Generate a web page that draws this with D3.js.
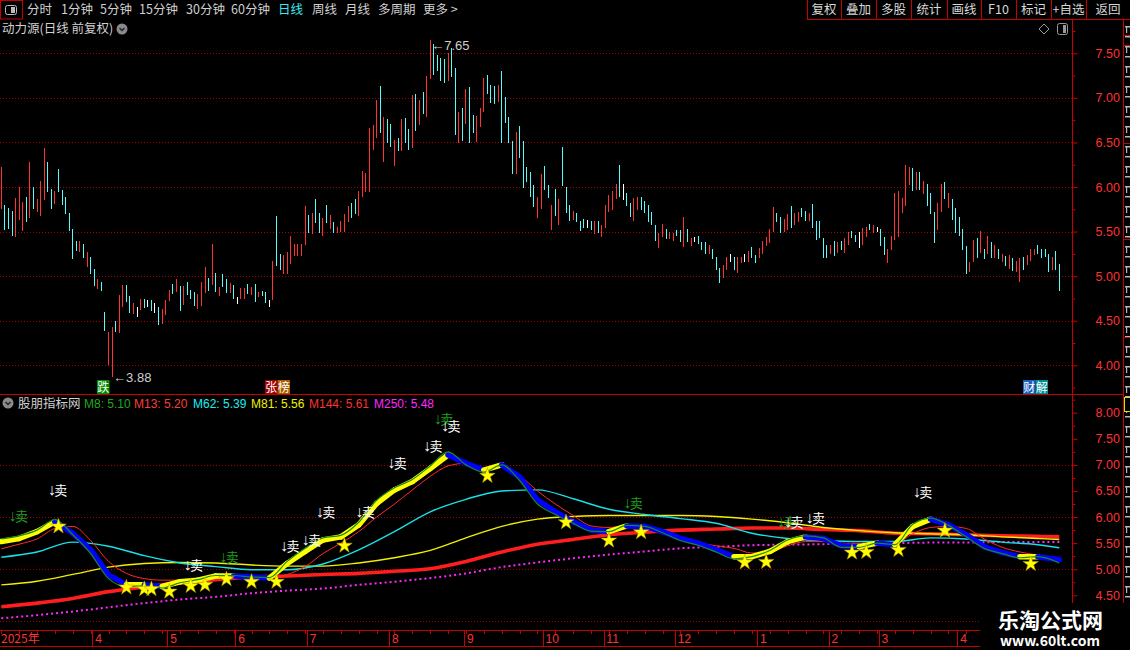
<!DOCTYPE html>
<html>
<head>
<meta charset="utf-8">
<title>动力源</title>
<script src="https://cdn.jsdelivr.net/npm/d3@7/dist/d3.min.js"></script>
<style>
  body { margin: 0; background: #000; overflow: hidden; }
  svg { display: block; }
  text { font-family: "Noto Sans CJK SC", "Liberation Sans", sans-serif; }
  .num { font-family: "Liberation Sans", "DejaVu Sans", sans-serif; }
</style>
</head>
<body>
<svg id="chart" width="1130" height="650"></svg>
<script>
// ---- daily bars (high / low / 1 up, -1 down, 0 flat)
const highs = [
  6.23,5.80,5.77,5.73,5.88,6.00,5.83,5.89,6.28,6.00, 5.86,6.07,6.44,6.28,5.98,5.96,6.20,5.97,5.89,5.71,
  5.53,5.40,5.39,5.36,5.27,5.22,5.08,4.97,4.94,4.60, 4.37,4.43,4.50,4.79,4.90,4.90,4.78,4.70,4.65,4.74,
  4.74,4.73,4.73,4.70,4.65,4.63,4.73,4.84,4.91,4.97, 4.89,4.89,4.93,4.85,4.82,4.80,4.93,5.10,4.98,5.36,
  5.03,4.88,5.02,4.97,4.92,4.90,4.77,4.87,4.87,4.91, 4.88,4.91,4.82,4.83,4.82,4.73,5.17,5.67,5.25,5.24,
  5.27,5.45,5.36,5.36,
  5.36,5.79,5.69,5.71,5.87,5.71,5.65,5.80,5.69,5.61, 5.55,5.62,5.70,5.79,5.82,5.87,5.96,6.18,6.16,6.66,
  6.70,6.98,7.13,6.79,6.76,6.71,6.53,6.55,6.76,6.77, 6.65,7.03,7.04,6.98,7.07,7.25,7.65,7.60,7.48,7.45,
  7.44,7.50,7.56,7.33,6.84,6.89,7.10,7.12,6.81,6.80, 6.89,7.22,7.26,7.14,7.13,7.14,7.30,7.01,6.79,6.52,
  6.62,6.69,6.52,6.22,6.17,6.02,5.89,6.15,6.24,6.02,
  5.80,5.98,5.87,6.45,6.00,5.80,5.73,5.71,5.62,5.64, 5.63,5.62,5.62,5.62,5.57,5.80,5.91,5.96,6.03,6.25,
  6.03,5.93,5.82,5.88,5.89,5.89,5.84,5.80,5.72,5.57, 5.48,5.59,5.53,5.50,5.48,5.52,5.52,5.66,5.53,5.43,
  5.44,5.45,5.38,5.38,5.35,5.30,5.22,5.09,5.12,5.21, 5.25,5.21,5.22,5.22,5.25,5.28,5.33,5.24,5.32,5.39,
  5.44,5.53,5.78,5.71,5.66,5.64,5.70,5.79,5.71,5.72,5.76,
  5.73,5.71,5.81,5.62,5.62,5.43,5.35,5.35,5.39,5.38, 5.39,5.43,5.50,5.51,5.46,5.50,5.54,5.55,5.59,5.57,
  5.55,5.53,5.44,5.31,5.45,5.93,5.96,5.88,6.25,6.22, 6.21,6.17,6.17,6.07,6.03,5.93,5.72,5.82,6.03,6.06,
  5.93,5.87,5.77,5.66,5.53,5.34,5.16,5.41,5.43,5.51, 5.31,5.45,5.38,5.35,5.31,5.25,5.23,5.24,5.20,5.17,
  5.20,5.21,5.24,5.31,5.31,5.35,5.31,5.31,5.25,5.22,5.28,5.14
];
const lows = [
  5.76,5.53,5.54,5.46,5.45,5.64,5.52,5.62,5.66,5.77, 5.73,5.69,5.87,5.96,5.77,5.82,5.96,5.81,5.71,5.52,
  5.20,5.29,5.28,5.21,5.11,5.04,4.90,4.87,4.84,4.40, 4.02,3.88,4.38,4.37,4.67,4.72,4.60,4.59,4.55,4.63,
  4.65,4.66,4.62,4.60,4.46,4.48,4.57,4.73,4.81,4.83, 4.62,4.69,4.80,4.75,4.68,4.64,4.68,4.82,4.85,4.91,
  4.83,4.79,4.89,4.82,4.82,4.75,4.70,4.75,4.76,4.81, 4.80,4.72,4.78,4.79,4.71,4.67,4.74,5.12,5.08,5.03,
  5.03,5.15,5.24,5.24,
  5.24,5.36,5.50,5.48,5.61,5.49,5.46,5.61,5.54,5.49, 5.49,5.51,5.51,5.62,5.66,5.71,5.69,5.90,5.96,5.96,
  6.43,6.56,6.62,6.29,6.50,6.46,6.25,6.42,6.42,6.50, 6.43,6.45,6.64,6.71,6.83,6.80,7.22,7.27,7.31,7.20,
  7.18,7.20,7.25,6.59,6.51,6.53,6.72,6.51,6.62,6.52, 6.69,6.85,7.05,6.95,6.94,6.97,6.50,6.73,6.50,6.16,
  6.16,6.34,6.00,6.07,5.90,5.79,5.66,5.77,5.98,5.89,
  5.53,5.69,5.59,6.02,5.72,5.63,5.64,5.62,5.52,5.55, 5.55,5.53,5.48,5.49,5.45,5.55,5.73,5.75,5.88,5.90,
  5.87,5.80,5.67,5.63,5.75,5.75,5.72,5.62,5.58,5.41, 5.33,5.45,5.43,5.43,5.41,5.46,5.39,5.34,5.39,5.35,
  5.40,5.37,5.31,5.26,5.26,5.20,5.08,4.94,4.99,5.08, 5.17,5.08,5.05,5.16,5.17,5.17,5.22,5.16,5.21,5.26,
  5.35,5.38,5.51,5.62,5.50,5.51,5.53,5.55,5.58,5.62,5.67,
  5.63,5.63,5.55,5.42,5.44,5.21,5.21,5.26,5.24,5.27, 5.30,5.27,5.36,5.44,5.40,5.33,5.36,5.45,5.53,5.50,
  5.51,5.35,5.25,5.16,5.31,5.42,5.45,5.72,5.80,6.03, 5.97,5.98,5.98,5.93,5.80,5.71,5.38,5.53,5.73,5.88,
  5.78,5.64,5.49,5.46,5.30,5.03,5.06,5.17,5.22,5.27, 5.20,5.26,5.22,5.21,5.20,5.17,5.12,5.09,5.07,5.06,
  4.95,5.08,5.14,5.18,5.25,5.26,5.21,5.23,5.06,5.08,5.08,4.84
];
const moves = [
  1,-1,-1,-1,1,1,1,-1,1,-1, 1,1,1,-1,-1,1,-1,-1,-1,-1,
  -1,-1,1,-1,1,-1,-1,1,-1,-1, 1,1,-1,1,1,-1,-1,1,0,1,
  -1,0,-1,0,-1,1,1,1,-1,1, -1,1,-1,-1,-1,1,1,1,-1,1,
  -1,1,-1,-1,1,-1,0,1,1,-1, 1,-1,1,-1,-1,0,1,-1,-1,1,
  1,1,1,1,
  1,1,-1,1,-1,-1,1,-1,1,-1, 1,1,1,1,-1,-1,1,1,1,1,
  1,1,-1,1,-1,-1,1,-1,1,-1, -1,1,-1,1,-1,1,1,-1,-1,-1,
  -1,1,-1,-1,1,-1,1,-1,-1,1, 1,1,-1,-1,-1,1,-1,-1,-1,-1,
  1,-1,-1,-1,-1,-1,1,1,-1,-1,
  1,-1,1,-1,-1,-1,1,-1,-1,-1, 0,-1,1,-1,1,1,1,1,1,-1,
  0,-1,-1,1,1,-1,-1,-1,-1,-1, 1,1,-1,1,1,-1,-1,1,-1,1,
  0,-1,-1,-1,1,-1,-1,-1,1,1, 0,-1,1,1,0,1,-1,-1,1,1,
  1,1,1,-1,-1,1,1,-1,1,1,-1,
  -1,1,-1,-1,-1,-1,-1,1,-1,1, -1,1,1,-1,-1,0,1,1,-1,1,
  0,-1,-1,1,1,1,1,1,1,1, -1,1,-1,1,-1,-1,-1,1,1,-1,
  1,-1,-1,-1,-1,-1,1,1,-1,1, -1,1,-1,1,-1,1,-1,1,-1,1,
  1,-1,1,1,1,-1,-1,-1,-1,1,-1,-1
];

// ---- indicator lines, sampled on these bars
const fastBars = [0,5,10,15,20,25,30,35,40,45,50,55,60,65,70,75,80,85,90,95,100,105,110,115,120,125,130,135,140,145,
  150,155,160,165,170,175,180,185,190,195,200,205,210,215,220,225,230,235,240,245,250,255,260,265,270,275,280,285,290,296];
const trendLine = [5.53,5.59,5.72,5.91,5.69,5.37,4.89,4.70,4.70,4.67,4.76,4.79,4.87,4.87,4.85,4.83,5.11,5.34,5.56,5.62,
  5.85,6.26,6.52,6.68,6.93,7.19,7.03,6.90,7.00,6.77,6.33,6.10,5.91,5.75,5.72,5.83,5.82,5.72,5.59,5.50,
  5.37,5.24,5.24,5.34,5.53,5.62,5.59,5.45,5.43,5.50,5.47,5.82,5.96,5.85,5.66,5.43,5.32,5.24,5.24,5.18];
const m8 = [5.58,5.64,5.75,5.95,5.66,5.30,4.82,4.67,4.68,4.64,4.74,4.80,4.88,4.88,4.85,4.84,5.15,5.40,5.60,5.65,
  5.90,6.32,6.56,6.72,6.98,7.25,7.00,6.86,7.00,6.70,6.25,6.05,5.88,5.73,5.72,5.84,5.82,5.70,5.55,5.46,
  5.33,5.20,5.24,5.36,5.56,5.64,5.60,5.42,5.42,5.50,5.47,5.86,5.98,5.84,5.62,5.40,5.30,5.22,5.24,5.12];
const m13 = [5.39,5.48,5.58,5.78,5.82,5.55,5.15,4.92,4.82,4.79,4.79,4.82,4.84,4.85,4.85,4.84,4.90,5.05,5.30,5.50,
  5.72,6.00,6.25,6.52,6.78,6.98,7.03,6.93,7.00,6.80,6.50,6.25,6.03,5.83,5.80,5.82,5.82,5.74,5.62,5.51,
  5.45,5.40,5.31,5.33,5.45,5.53,5.53,5.50,5.49,5.49,5.49,5.68,5.80,5.82,5.78,5.58,5.42,5.33,5.27,5.22];
const slowBars = [0,10,20,30,40,50,60,70,80,90,100,110,120,130,140,150,160,170,180,190,200,210,220,230,240,250,260,270,280,290,296];
const m62 = [5.23,5.33,5.52,5.44,5.26,5.12,5.05,4.99,4.99,5.10,5.37,5.72,6.10,6.34,6.50,6.52,6.35,6.15,6.05,5.97,
  5.88,5.69,5.59,5.55,5.53,5.53,5.60,5.58,5.52,5.47,5.41];
const m81 = [4.70,4.77,4.90,5.04,5.11,5.13,5.12,5.08,5.06,5.06,5.12,5.22,5.36,5.60,5.82,5.96,6.01,6.03,6.03,6.03,
  6.01,5.96,5.89,5.80,5.74,5.70,5.68,5.66,5.62,5.59,5.57];
const m144 = [4.28,4.35,4.44,4.57,4.66,4.74,4.80,4.85,4.87,4.90,4.92,4.96,5.01,5.15,5.33,5.48,5.57,5.66,5.71,5.75,
  5.77,5.79,5.79,5.76,5.74,5.69,5.68,5.66,5.64,5.63,5.62];
const m250 = [4.06,4.12,4.19,4.27,4.35,4.42,4.47,4.54,4.59,4.63,4.70,4.76,4.83,4.92,5.04,5.13,5.21,5.28,5.34,5.40,
  5.43,5.46,5.47,5.48,5.49,5.50,5.51,5.51,5.52,5.52,5.52];

const starBars = [16,35,40,42,47,53,57,63,70,77,96,136,158,170,179,208,214,238,242,251,264,288];
const starVals = [5.82,4.65,4.62,4.62,4.57,4.68,4.70,4.81,4.76,4.76,5.45,6.79,5.90,5.55,5.71,5.13,5.14,5.32,5.33,5.37,5.74,5.10];
const sellBars = [2,13,51,61,78,84,88,99,108,118,121,123,174,217,219,225,255];
const sellVals = [5.93,6.42,4.99,5.14,5.35,5.47,6.00,6.00,6.94,7.27,7.78,7.65,6.17,5.81,5.81,5.89,6.39];
const sellKinds = [0,1,1,0,1,1,1,1,1,1,0,1,0,0,1,1,1];   // 0 weak (green), 1 strong (white)

const maNames = ["M8","M13","M62","M81","M144","M250"];
const maLast = [5.10,5.20,5.39,5.56,5.61,5.48];

const monthBars = [26,47,66,86,109,130,152,169,189,212,232,246,268];
const monthLabels = ["4","5","6","7","8","9","10","11","12","1","2","3","4"];
const eventBars = [27,74,286];
const eventTexts = ["跌","张榜","财解"];
const topTicks = [3.75,4.00,4.25,4.50,4.75,5.00,5.25,5.50,5.75,6.00,6.25,6.50,6.75,7.00,7.25,7.50,7.75];
const lowTicks = [4.50,4.75,5.00,5.25,5.50,5.75,6.00,6.25,6.50,6.75,7.00,7.25,7.50,7.75,8.00,8.25];

const periodTabs = ["分时","1分钟","5分钟","15分钟","30分钟","60分钟","日线","周线","月线","多周期","更多 >"];
const toolButtons = ["复权","叠加","多股","统计","画线","F10","标记","+自选","返回"];

// ---- layout
const RED = "#ff3232", CYAN = "#54fcfc", GRID = "#a80000", LINE = "#c80000";
const AXIS_X = 1072;
const tabX = [27,61,100,139,186,231,278,312,345,378,423];
const btnEdges = [807,841,876,911,947,981,1016,1051,1086,1130];

const svg = d3.select("#chart");
svg.append("rect").attr("width", 1130).attr("height", 650).attr("fill", "#000");

const xBar = d3.scaleLinear().domain([0, highs.length - 1]).range([1.3, 1059.3]);
const yTop = d3.scaleLinear().domain([4.0, 7.5]).range([365.3, 53.3]);
const yLow = d3.scaleLinear().domain([4.5, 8.0]).range([595.3, 412.7]);

const defs = svg.append("defs");
defs.append("clipPath").attr("id", "clipTop").append("rect").attr("x", 0).attr("y", 20).attr("width", AXIS_X).attr("height", 374);
defs.append("clipPath").attr("id", "clipLow").append("rect").attr("x", 0).attr("y", 396).attr("width", AXIS_X).attr("height", 234);

// ---- toolbar
const bar = svg.append("g");
bar.append("rect").attr("x", 0.5).attr("y", 0.5).attr("width", 22).attr("height", 18.5)
  .attr("fill", "none").attr("stroke", LINE);
bar.append("rect").attr("x", 5.5).attr("y", 5.5).attr("width", 11).attr("height", 9).attr("rx", 2)
  .attr("fill", "none").attr("stroke", "#bbb");
bar.append("rect").attr("x", 11).attr("y", 7).attr("width", 4).attr("height", 6).attr("fill", "#bbb");
bar.selectAll("text.tab").data(periodTabs).join("text").attr("class", "tab")
  .attr("x", (d, i) => tabX[i]).attr("y", 14).attr("font-size", 12.5)
  .attr("fill", d => d === "日线" ? "#3ce8f0" : "#d0d0d0").text(d => d);
bar.append("line").attr("x1", 807).attr("x2", 1130).attr("y1", 19.5).attr("y2", 19.5).attr("stroke", LINE);
bar.selectAll("line.sep").data(btnEdges.slice(0, -1)).join("line").attr("class", "sep")
  .attr("x1", d => d + 0.5).attr("x2", d => d + 0.5).attr("y1", 0).attr("y2", 19.5).attr("stroke", LINE);
bar.selectAll("text.btn").data(toolButtons).join("text").attr("class", "btn")
  .attr("x", (d, i) => (btnEdges[i] + btnEdges[i + 1]) / 2).attr("y", 14).attr("text-anchor", "middle")
  .attr("font-size", 12.5).attr("fill", "#d8d8d8").text(d => d);

// ---- frame lines
const frame = svg.append("g").attr("stroke", LINE).attr("shape-rendering", "crispEdges");
frame.append("line").attr("x1", AXIS_X + 0.5).attr("x2", AXIS_X + 0.5).attr("y1", 19.5).attr("y2", 646);
frame.append("line").attr("x1", 1123.5).attr("x2", 1123.5).attr("y1", 19.5).attr("y2", 650);
frame.append("line").attr("x1", 0).attr("x2", 1123.5).attr("y1", 394.5).attr("y2", 394.5);
frame.append("line").attr("x1", 0).attr("x2", 1123.5).attr("y1", 630.5).attr("y2", 630.5);
frame.append("line").attr("x1", 0).attr("x2", 1123.5).attr("y1", 646.5).attr("y2", 646.5);

// ---- gridlines
const grid = svg.append("g").attr("stroke", GRID).attr("stroke-dasharray", "1,2").attr("shape-rendering", "crispEdges");
grid.selectAll("line.gt").data(topTicks.filter(t => t * 2 === Math.round(t * 2) && t >= 4 && t <= 7.5)).join("line").attr("class", "gt")
  .attr("x1", 0).attr("x2", AXIS_X).attr("y1", d => Math.round(yTop(d)) + 0.5).attr("y2", d => Math.round(yTop(d)) + 0.5);
grid.selectAll("line.gl").data([4, 5, 6, 7]).join("line").attr("class", "gl")
  .attr("x1", 0).attr("x2", AXIS_X).attr("y1", d => Math.round(yLow(d)) + 0.5).attr("y2", d => Math.round(yLow(d)) + 0.5);

// ---- right axes
function priceAxis(scale, ticks) {
  return d3.axisRight(scale).tickValues(ticks).tickSize(4).tickPadding(19)
    .tickFormat(d => d * 2 === Math.round(d * 2) ? d.toFixed(2) : "");
}
function styleAxis(g) {
  g.select(".domain").remove();
  g.selectAll("line").attr("stroke", LINE).attr("x2", d => d * 2 === Math.round(d * 2) ? 5 : 3);
  g.selectAll("text").attr("class", "num").attr("fill", RED).attr("font-size", 12.5);
}
svg.append("g").attr("transform", `translate(${AXIS_X + 0.5},0)`).call(priceAxis(yTop, topTicks)).call(styleAxis);
svg.append("g").attr("transform", `translate(${AXIS_X + 0.5},0)`).call(priceAxis(yLow, lowTicks)).call(styleAxis);

// ---- top panel title
svg.append("text").attr("x", 2).attr("y", 33).attr("font-size", 12.5).attr("fill", "#d0d0d0").text("动力源(日线 前复权)");
function chevronIcon(cx, cy) {
  svg.append("circle").attr("cx", cx).attr("cy", cy).attr("r", 5.5).attr("fill", "#8a8a8a");
  svg.append("path").attr("d", `M${cx - 2.5},${cy - 1} L${cx},${cy + 1.5} L${cx + 2.5},${cy - 1}`)
    .attr("fill", "none").attr("stroke", "#222").attr("stroke-width", 1.4);
}
chevronIcon(122, 29);
svg.append("path").attr("d", "M1044,24 L1049,29 L1044,34 L1039,29 Z").attr("fill", "none").attr("stroke", "#999");
svg.append("rect").attr("x", 1057.5).attr("y", 23.5).attr("width", 10).attr("height", 11).attr("rx", 2).attr("fill", "none").attr("stroke", "#999");
svg.append("rect").attr("x", 1063).attr("y", 25).attr("width", 3).attr("height", 8).attr("fill", "#999");

// ---- candles
const moveColor = m => m > 0 ? RED : (m < 0 ? CYAN : "#ffffff");
svg.append("g").attr("clip-path", "url(#clipTop)").attr("shape-rendering", "crispEdges")
  .selectAll("line").data(highs).join("line")
  .attr("x1", (d, i) => Math.floor(xBar(i)) + 0.5).attr("x2", (d, i) => Math.floor(xBar(i)) + 0.5)
  .attr("y1", d => yTop(d)).attr("y2", (d, i) => yTop(lows[i]) + 1)
  .attr("stroke", (d, i) => moveColor(moves[i])).attr("stroke-width", 1.2);

// extremes
const hiIdx = d3.maxIndex(highs), loIdx = d3.minIndex(lows);
svg.append("text").attr("class", "num").attr("x", xBar(hiIdx) + 1).attr("y", yTop(highs[hiIdx]) + 10)
  .attr("font-size", 13).attr("fill", "#cfcfcf").text("←" + highs[hiIdx].toFixed(2));
svg.append("text").attr("class", "num").attr("x", xBar(loIdx) + 1).attr("y", yTop(lows[loIdx]) + 6)
  .attr("font-size", 13).attr("fill", "#cfcfcf").text("←" + lows[loIdx].toFixed(2));

// event badges
const badgeBg = { "跌": ["#008a00"], "张榜": ["#a00000", "#a85a00"], "财解": ["#1e5fc0", "#008c96"] };
eventTexts.forEach((t, k) => {
  const x0 = Math.round(xBar(eventBars[k])) - 1;
  [...t].forEach((ch, j) => {
    svg.append("rect").attr("x", x0 + j * 12.5).attr("y", 380).attr("width", 12.5).attr("height", 14).attr("fill", badgeBg[t][j]);
    svg.append("text").attr("x", x0 + j * 12.5 + 6.25).attr("y", 392).attr("text-anchor", "middle")
      .attr("font-size", 12).attr("fill", "#fff").text(ch);
  });
});

// ---- lower panel title / legend
chevronIcon(8, 403);
svg.append("text").attr("x", 18).attr("y", 408).attr("font-size", 12.5).attr("fill", "#d0d0d0").text("股朋指标网");
const maColors = ["#1ea81e", "#ff3c3c", "#18f0f0", "#f0f000", "#ff3232", "#ff28ff"];
const legendX = [84, 134, 193, 251, 309, 374];
svg.selectAll("text.leg").data(maNames).join("text").attr("class", "leg num")
  .attr("x", (d, i) => legendX[i]).attr("y", 408).attr("font-size", 12).attr("fill", (d, i) => maColors[i])
  .text((d, i) => `${d}: ${maLast[i].toFixed(2)}`);

// ---- lower panel lines
const low = svg.append("g").attr("clip-path", "url(#clipLow)");
const lineOf = (bars, vals, curve) => d3.line().x((d, i) => xBar(bars[i])).y(d => yLow(d)).curve(curve || d3.curveMonotoneX)(vals);

low.append("path").attr("d", lineOf(slowBars, m250)).attr("fill", "none").attr("stroke", "#ff28ff")
  .attr("stroke-width", 2).attr("stroke-dasharray", "2,3");
low.append("path").attr("d", lineOf(slowBars, m144)).attr("fill", "none").attr("stroke", "#ff1e1e").attr("stroke-width", 3.6);
low.append("path").attr("d", lineOf(slowBars, m81)).attr("fill", "none").attr("stroke", "#f0f000").attr("stroke-width", 1.4);
low.append("path").attr("d", lineOf(slowBars, m62)).attr("fill", "none").attr("stroke", "#18e0e8").attr("stroke-width", 1.4);
low.append("path").attr("d", lineOf(fastBars, m13)).attr("fill", "none").attr("stroke", "#ff2a2a").attr("stroke-width", 1);

// thick trend line: yellow rising, blue falling
const segs = d3.pairs(d3.range(fastBars.length));
low.selectAll("line.trend").data(segs).join("line").attr("class", "trend")
  .attr("x1", d => xBar(fastBars[d[0]])).attr("y1", d => yLow(trendLine[d[0]]))
  .attr("x2", d => xBar(fastBars[d[1]])).attr("y2", d => yLow(trendLine[d[1]]))
  .attr("stroke", d => trendLine[d[1]] >= trendLine[d[0]] ? "#ffff00" : "#0000ff")
  .attr("stroke-width", 5.5).attr("stroke-linecap", "round");
low.append("path").attr("d", lineOf(fastBars, m8)).attr("fill", "none").attr("stroke", "#178a17").attr("stroke-width", 1.2);

// stars and sell marks
const star = d3.symbol().type(d3.symbolStar).size(75);
low.selectAll("path.star").data(starBars).join("path").attr("class", "star")
  .attr("transform", (d, i) => `translate(${xBar(d)},${yLow(starVals[i])})`)
  .attr("d", star).attr("fill", "#ffff00").attr("stroke", "#b89000").attr("stroke-width", 0.5);
const sells = low.selectAll("text.sell").data(sellBars).join("text").attr("class", "sell")
  .attr("x", d => xBar(d)).attr("y", (d, i) => yLow(sellVals[i]))
  .attr("font-size", 13).attr("fill", (d, i) => sellKinds[i] ? "#ffffff" : "#1ea01e");
sells.append("tspan").attr("font-family", "Liberation Sans, DejaVu Sans, sans-serif").attr("font-size", 16).text("↓");
sells.append("tspan").attr("dx", -1.5).text("卖");

// ---- time axis
const axisG = svg.append("g").attr("stroke", LINE).attr("shape-rendering", "crispEdges");
axisG.selectAll("line.minor").data(d3.range(0, highs.length, 5)).join("line").attr("class", "minor")
  .attr("x1", d => Math.round(xBar(d)) + 0.5).attr("x2", d => Math.round(xBar(d)) + 0.5)
  .attr("y1", 630.5).attr("y2", 633.5);
axisG.selectAll("line.major").data(monthBars).join("line").attr("class", "major")
  .attr("x1", d => Math.round(xBar(d) - 1.8) + 0.5).attr("x2", d => Math.round(xBar(d) - 1.8) + 0.5)
  .attr("y1", 630.5).attr("y2", 646.5);
svg.append("text").attr("x", 1).attr("y", 643).attr("font-size", 12).attr("fill", RED).text("2025年");
svg.selectAll("text.month").data(monthLabels).join("text").attr("class", "month num")
  .attr("x", (d, i) => xBar(monthBars[i]) + 1).attr("y", 643).attr("font-size", 12).attr("fill", RED).text(d => d);

// ---- cut-off side panel at right edge (only glyph fragments show)
const strip = svg.append("g");
strip.selectAll("rect.frag").data(d3.range(26, 600, 10)).join("rect").attr("class", "frag")
  .attr("x", 1125).attr("y", d => d).attr("width", 5).attr("height", 1.5).attr("fill", "#b8b8b8");
strip.selectAll("rect.fragv").data(d3.range(26, 600, 20)).join("rect").attr("class", "fragv")
  .attr("x", 1126).attr("y", d => d).attr("width", 1.2).attr("height", 7).attr("fill", "#b8b8b8");
strip.selectAll("line").data([35, 45, 143, 239, 337]).join("line")
  .attr("x1", 1123).attr("x2", 1130).attr("y1", d => d + 0.5).attr("y2", d => d + 0.5).attr("stroke", LINE);
strip.append("rect").attr("x", 1124.5).attr("y", 397.5).attr("width", 8).attr("height", 14).attr("fill", "#000").attr("stroke", "#e0e000");

// ---- watermark
svg.append("rect").attr("x", 980).attr("y", 603).attr("width", 150).attr("height", 47).attr("fill", "#000");
svg.append("text").attr("x", 998).attr("y", 628).attr("font-size", 21).attr("font-weight", "bold")
  .attr("fill", "#fff").text("乐淘公式网");
svg.append("text").attr("x", 1000).attr("y", 646).attr("font-size", 14).attr("font-weight", "bold")
  .attr("font-family", "Liberation Serif, serif").attr("fill", "#fff").text("www.60lt.com");
</script>
</body>
</html>
